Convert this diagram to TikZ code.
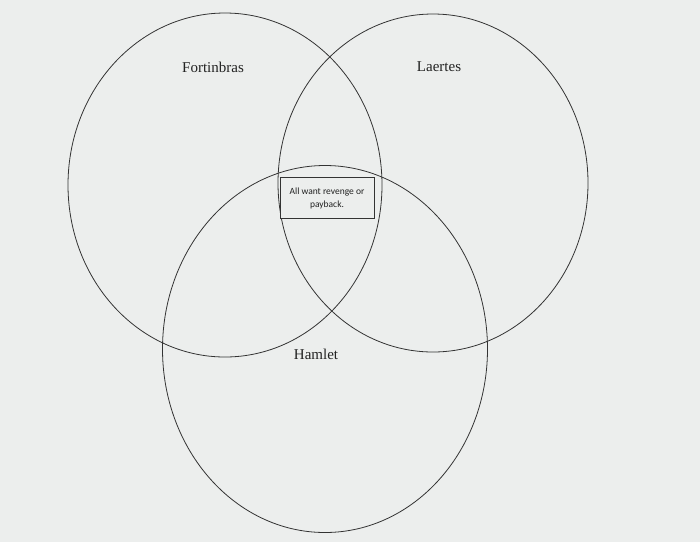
\documentclass[tikz,border=0pt]{standalone}
\usepackage{fontspec}
\setmainfont{Liberation Serif}
\newfontfamily\boxfont{Carlito}
\usetikzlibrary{shapes.geometric}
\definecolor{bgcol}{HTML}{ECEEED}
\definecolor{linecol}{HTML}{333333}
\definecolor{txtcol}{HTML}{222222}
\tikzset{
  venn/.style={draw=linecol, line width=0.8pt, ellipse, inner sep=0pt},
  lbl/.style={text=txtcol, font=\fontsize{15}{17}\selectfont, inner sep=0pt},
  notebox/.style={draw=linecol, line width=0.9pt, fill=bgcol, minimum width=94pt, minimum height=41pt, inner sep=0pt, align=center, text=txtcol, font=\boxfont\fontsize{9.5}{13}\selectfont}
}
\begin{document}
\begin{tikzpicture}[x=1pt,y=-1pt]
  \fill[bgcol] (0,0) rectangle (700,542);
  \useasboundingbox (0,0) rectangle (700,542);
  \node[venn, minimum width=314pt, minimum height=344pt] (fort) at (225,185) {};
  \node[venn, minimum width=310pt, minimum height=338pt] (laer) at (433,183) {};
  \node[venn, minimum width=325pt, minimum height=367pt] (haml) at (325,349) {};
  \node[notebox] (note) at (327,198) {All want revenge or\\payback.};
  \node[lbl] (lf) at (213,67) {Fortinbras};
  \node[lbl] (ll) at (439,67) {Laertes};
  \node[lbl] (lh) at (316,354) {Hamlet};
\end{tikzpicture}
\end{document}
